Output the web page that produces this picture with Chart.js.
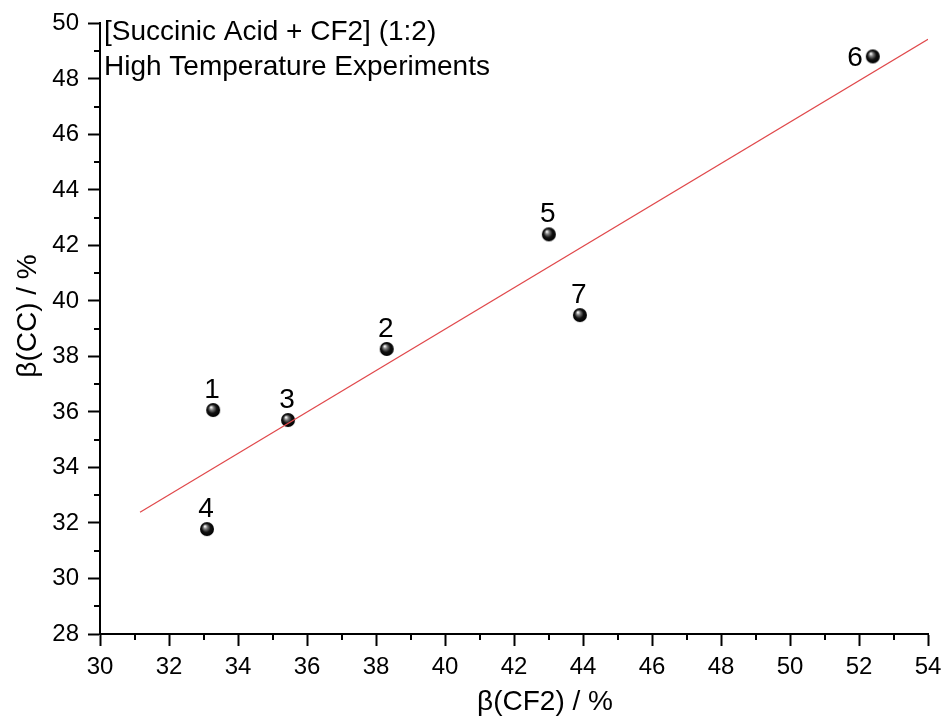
<!DOCTYPE html>
<html>
<head>
<meta charset="utf-8">
<script src="https://cdn.jsdelivr.net/npm/chart.js@4/dist/chart.umd.min.js"></script>
<style>
  html, body { margin: 0; padding: 0; background: #fff; }
  #wrap { width: 944px; height: 719px; }
</style>
</head>
<body>
<div id="wrap"><canvas id="myChart" width="944" height="719"></canvas></div>
<script>
const run_labels = ['1', '2', '3', '4', '5', '6', '7'];
const beta_cf2 = [33.28, 38.31, 35.45, 33.10, 43.01, 52.40, 43.91];
const beta_cc = [36.07, 38.27, 35.71, 31.78, 42.40, 48.81, 39.49];

// linear fit line, end points
const fit_x = [31.16, 54];
const fit_y = [32.39, 49.43];

const title_lines = ['[Succinic Acid + CF2] (1:2)', 'High Temperature Experiments'];
const x_title = 'β(CF2) / %';
const y_title = 'β(CC) / %';
const FONT = 'Arial, "Liberation Sans", sans-serif';

// shiny black ball for the markers
function makeBall(r){
    const c = document.createElement('canvas');
    c.width = r * 2 + 2;
    c.height = r * 2 + 2;
    const g = c.getContext('2d');
    const cx = r + 1, cy = r + 1;
    const grad = g.createRadialGradient(cx - r * 0.3, cy - r * 0.4, 0.5, cx, cy, r);
    grad.addColorStop(0, '#f2f2f2');
    grad.addColorStop(0.25, '#7a7a7a');
    grad.addColorStop(0.6, '#111');
    grad.addColorStop(1, '#000');
    g.fillStyle = grad;
    g.beginPath();
    g.arc(cx, cy, r, 0, Math.PI * 2);
    g.fill();
    return c;
}
const ball = makeBall(7);

let points = [];
for(let i = 0; i < beta_cf2.length; i += 1){
    points.push({x: beta_cf2[i], y: beta_cc[i]});
}
let fitPoints = [];
for(let i = 0; i < fit_x.length; i += 1){
    fitPoints.push({x: fit_x[i], y: fit_y[i]});
}

// minor ticks + labels + title text
const extras = {
    id: 'extras',
    afterDraw(chart){
        const ctx = chart.ctx;
        const xs = chart.scales.x;
        const ys = chart.scales.y;
        const area = chart.chartArea;
        ctx.save();
        ctx.strokeStyle = '#000';
        ctx.lineWidth = 2;
        // minor ticks (odd values)
        for(let v = 31; v < 54; v += 2){
            const px = Math.round(xs.getPixelForValue(v));
            ctx.beginPath();
            ctx.moveTo(px, area.bottom);
            ctx.lineTo(px, area.bottom + 6);
            ctx.stroke();
        }
        for(let v = 29; v < 50; v += 2){
            const py = Math.round(ys.getPixelForValue(v));
            ctx.beginPath();
            ctx.moveTo(area.left, py);
            ctx.lineTo(area.left - 6, py);
            ctx.stroke();
        }
        ctx.fillStyle = '#000';
        ctx.font = '28px ' + FONT;
        // point numbers
        const meta = chart.getDatasetMeta(1);
        meta.data.forEach(function(pt, i){
            if(run_labels[i] === '6'){
                ctx.textAlign = 'right';
                ctx.textBaseline = 'middle';
                ctx.fillText(run_labels[i], pt.x - 10, pt.y + 2);
            } else {
                ctx.textAlign = 'center';
                ctx.textBaseline = 'alphabetic';
                ctx.fillText(run_labels[i], pt.x - 1, pt.y - 12);
            }
        });
        // title block
        ctx.textAlign = 'left';
        ctx.textBaseline = 'alphabetic';
        ctx.fillText(title_lines[0], area.left + 4, area.top + 17);
        ctx.fillText(title_lines[1], area.left + 4, area.top + 52);
        // axis titles
        ctx.textAlign = 'center';
        ctx.textBaseline = 'middle';
        ctx.fillText(x_title, 545, 702);
        ctx.translate(28, 316);
        ctx.rotate(-Math.PI / 2);
        ctx.fillText(y_title, 0, 0);
        ctx.restore();
    }
};

const ctx = document.getElementById('myChart').getContext('2d');
const myChart = new Chart(ctx, {
    type: 'scatter',
    data: {
        datasets: [
            {
                type: 'line',
                label: 'fit',
                data: fitPoints,
                borderColor: '#e0484b',
                borderWidth: 1.2,
                pointRadius: 0,
                fill: false
            },
            {
                label: 'runs',
                data: points,
                pointStyle: ball,
                pointRadius: 7
            }
        ]
    },
    plugins: [extras],
    options: {
        responsive: false,
        animation: false,
        events: [],
        layout: { padding: { top: 23, right: 0, left: 0, bottom: 0 } },
        plugins: {
            legend: { display: false },
            tooltip: { enabled: false }
        },
        scales: {
            x: {
                type: 'linear',
                min: 30,
                max: 54,
                afterFit: function(s){
                    s.height = 85;
                    s.paddingLeft = 0;
                    s.paddingRight = 16;
                },
                ticks: { stepSize: 2, color: '#000', font: { family: FONT, size: 24 }, padding: 7 },
                grid: { drawOnChartArea: false, tickLength: 12, tickColor: '#000', tickWidth: 2 },
                border: { color: '#000', width: 2 }
            },
            y: {
                type: 'linear',
                min: 28,
                max: 50,
                afterFit: function(s){ s.width = 100; },
                ticks: { stepSize: 2, color: '#000', font: { family: FONT, size: 24 }, padding: 9 },
                grid: { drawOnChartArea: false, tickLength: 12, tickColor: '#000', tickWidth: 2 },
                border: { color: '#000', width: 2 }
            }
        }
    }
});
</script>
</body>
</html>
